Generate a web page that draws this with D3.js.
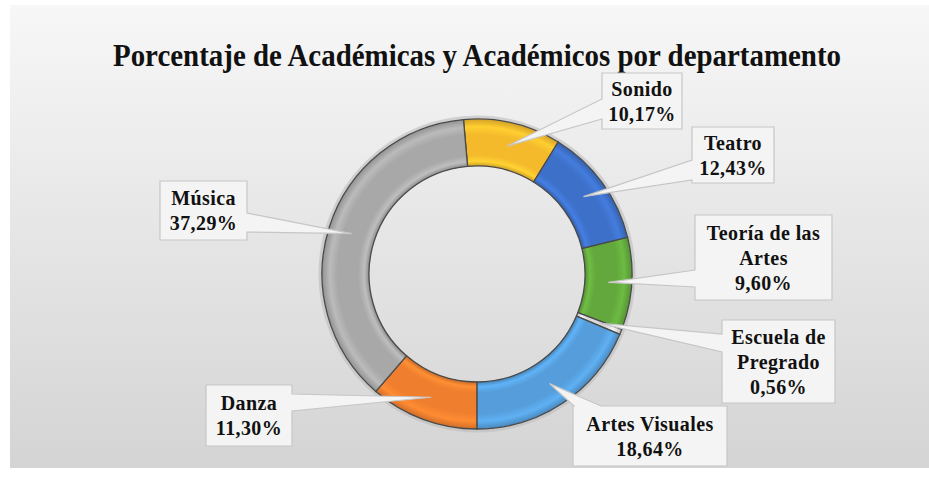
<!DOCTYPE html>
<html>
<head>
<meta charset="utf-8">
<script src="https://cdn.jsdelivr.net/npm/d3@7"></script>
<style>
  body { margin: 0; background: #fff; }
  svg { display: block; }
  text { font-family: "Liberation Serif", "Times New Roman", serif; font-weight: bold; fill: #111; }
</style>
</head>
<body>
<script>
// chart data
var categories = ["Sonido", "Teatro", "Teoría de las Artes", "Escuela de Pregrado", "Artes Visuales", "Danza", "Música"];
var values = [10.17, 12.43, 9.60, 0.56, 18.64, 11.30, 37.29];
var labelLines = [["Sonido"], ["Teatro"], ["Teoría de las", "Artes"], ["Escuela de", "Pregrado"], ["Artes Visuales"], ["Danza"], ["Música"]];
var colors = ["#f4ba2c", "#3d70c8", "#62a83c", "#dadada", "#559edb", "#ef7e2e", "#a8a8a8"];
var title = "Porcentaje de Académicas y Académicos por departamento";

// callout boxes, placed by hand like in the original
var boxes = [
  {x: 602, y: 73,  w: 80,  h: 56, side: "left",  a: 26, b: 46},
  {x: 692, y: 127, w: 82,  h: 56, side: "left",  a: 33, b: 53},
  {x: 695, y: 215, w: 137, h: 85, side: "left",  a: 55, b: 72},
  {x: 722, y: 320, w: 113, h: 83, side: "left",  a: 14, b: 32},
  {x: 573, y: 406, w: 154, h: 60, side: "top",   a: 1,  b: 28},
  {x: 206, y: 385, w: 86,  h: 61, side: "right", a: 9,  b: 26},
  {x: 160, y: 181, w: 87,  h: 59, side: "right", a: 32, b: 51}
];

var width = 929, height = 481;
var cx = 477, cy = 274, rOuter = 155, rInner = 108;
var startAngle = -5 * Math.PI / 180;

var svg = d3.select("body").append("svg")
  .attr("width", width)
  .attr("height", height);

var defs = svg.append("defs");

// background gradient
var bg = defs.append("linearGradient").attr("id", "bg")
  .attr("x1", 0).attr("y1", 0).attr("x2", 0).attr("y2", 1);
bg.append("stop").attr("offset", "0%").attr("stop-color", "#f7f7f7");
bg.append("stop").attr("offset", "100%").attr("stop-color", "#d4d4d4");

svg.append("rect")
  .attr("x", 10).attr("y", 5)
  .attr("width", width - 10).attr("height", 463)
  .attr("fill", "url(#bg)");

// title
svg.append("text")
  .attr("x", cx).attr("y", 66)
  .attr("text-anchor", "middle")
  .attr("font-size", 31)
  .attr("textLength", 728)
  .attr("lengthAdjust", "spacingAndGlyphs")
  .text(title);

// donut
var pie = d3.pie().sort(null)
  .startAngle(startAngle)
  .endAngle(startAngle + 2 * Math.PI);
var arcs = pie(values);

var arc = d3.arc().innerRadius(rInner).outerRadius(rOuter);

// bevel-ish look: a radial gradient per slice (centre of the ring group is 0,0)
var inF = rInner / rOuter;
arcs.forEach(function(d, i) {
  var base = d3.color(colors[i]);
  var g = defs.append("radialGradient").attr("id", "g" + i)
    .attr("gradientUnits", "userSpaceOnUse")
    .attr("cx", 0).attr("cy", 0).attr("r", rOuter);
  g.append("stop").attr("offset", inF).attr("stop-color", base.darker(0.5));
  g.append("stop").attr("offset", inF + 0.03).attr("stop-color", base.brighter(0.35));
  g.append("stop").attr("offset", inF + 0.07).attr("stop-color", base);
  g.append("stop").attr("offset", 0.9).attr("stop-color", base);
  g.append("stop").attr("offset", 0.95).attr("stop-color", base.brighter(0.3));
  g.append("stop").attr("offset", 1).attr("stop-color", base.darker(0.4));
});

var ring = svg.append("g").attr("transform", "translate(" + cx + "," + cy + ")");

// soft shadow ring
ring.append("circle")
  .attr("r", rOuter + 2)
  .attr("fill", "none")
  .attr("stroke", "#bdbdbd")
  .attr("stroke-width", 3)
  .attr("opacity", 0.6);

ring.selectAll("path.slice")
  .data(arcs)
  .enter().append("path")
  .attr("class", "slice")
  .attr("d", arc)
  .attr("fill", function(d, i) { return "url(#g" + i + ")"; })
  .attr("stroke", "#4a4a4a")
  .attr("stroke-width", 1.3);

// callouts
var fmt = d3.formatLocale({decimal: ",", thousands: ".", grouping: [3], currency: ["", ""]}).format(".2f");

function calloutPath(b, tip) {
  var x = b.x, y = b.y, w = b.w, h = b.h;
  var p = d3.path();
  p.moveTo(x, y);
  if (b.side === "top") {
    p.lineTo(x + b.a, y); p.lineTo(tip[0], tip[1]); p.lineTo(x + b.b, y);
  }
  p.lineTo(x + w, y);
  if (b.side === "right") {
    p.lineTo(x + w, y + b.a); p.lineTo(tip[0], tip[1]); p.lineTo(x + w, y + b.b);
  }
  p.lineTo(x + w, y + h);
  p.lineTo(x, y + h);
  if (b.side === "left") {
    p.lineTo(x, y + b.b); p.lineTo(tip[0], tip[1]); p.lineTo(x, y + b.a);
  }
  p.closePath();
  return p.toString();
}

var labels = svg.append("g");
arcs.forEach(function(d, i) {
  var c = arc.centroid(d);
  var tip = [cx + c[0], cy + c[1]];
  var b = boxes[i];
  labels.append("path")
    .attr("d", calloutPath(b, tip))
    .attr("fill", "#f4f4f4")
    .attr("stroke", "#c6c6c6")
    .attr("stroke-width", 1.2)
    .attr("stroke-linejoin", "miter");

  var lines = labelLines[i].concat([fmt(values[i]) + "%"]);
  var lineH = 25;
  var midY = b.y + b.h / 2;
  var t = labels.append("text")
    .attr("text-anchor", "middle")
    .attr("font-size", 20)
    .attr("letter-spacing", 0.4);
  lines.forEach(function(s, k) {
    t.append("tspan")
      .attr("x", b.x + b.w / 2)
      .attr("y", midY - (lines.length - 1) * lineH / 2 + 7 + k * lineH)
      .text(s);
  });
});
</script>
</body>
</html>
